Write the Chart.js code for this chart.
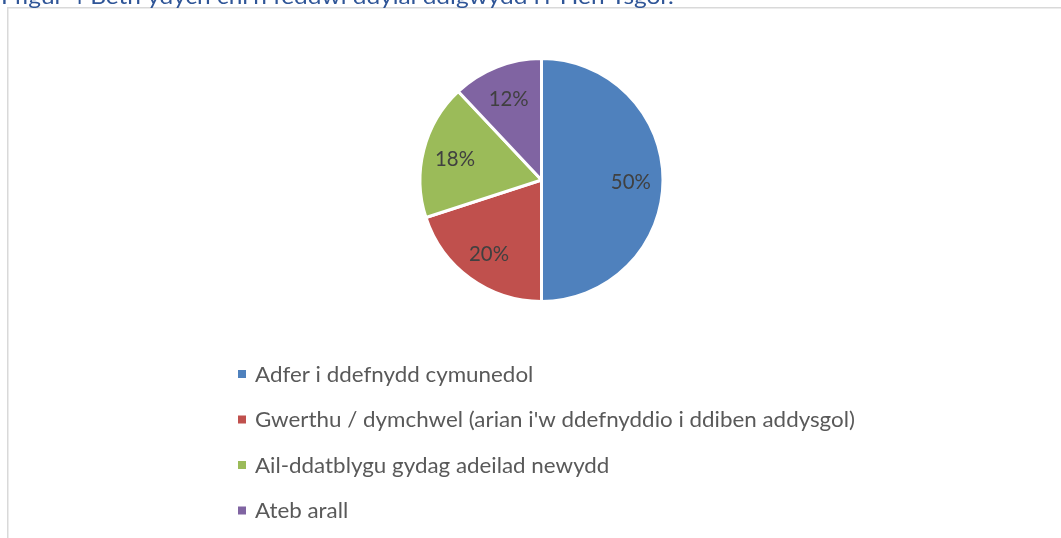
<!DOCTYPE html>
<html><head><meta charset="utf-8">
<script src="https://cdn.jsdelivr.net/npm/chart.js@4"></script>
<style>html,body{margin:0;padding:0;background:#fff;overflow:hidden}</style>
</head><body>
<canvas id="c" width="1061" height="538" style="width:1061px;height:538px;display:block"></canvas>
<script>
const titleText = "Ffigur 4 Beth ydych chi'n feddwl ddylai ddigwydd i'r Hen Ysgol?";
const categories = [
  "Adfer i ddefnydd cymunedol",
  "Gwerthu / dymchwel (arian i'w ddefnyddio i ddiben addysgol)",
  "Ail-ddatblygu gydag adeilad newydd",
  "Ateb arall"
];
const percentages = [50, 20, 18, 12];
const sliceColors = ['#4F81BD', '#C0504D', '#9BBB59', '#8064A2'];

const FONT = "Lato, 'Open Sans', 'Liberation Sans', sans-serif";

// draw text at font size `size`, horizontally scaled by sx
function drawScaled(ctx, text, x, y, size, sx, align) {
  ctx.font = size + 'px ' + FONT;
  const w = ctx.measureText(text).width * sx;
  let left = x;
  if (align === 'center') left = x - w / 2;
  ctx.save();
  ctx.translate(left, y);
  ctx.scale(sx, 1);
  ctx.textAlign = 'left';
  ctx.fillText(text, 0, 0);
  ctx.restore();
}
function scaleFor(ctx, text, size, targetW) {
  ctx.font = size + 'px ' + FONT;
  return targetW / ctx.measureText(text).width;
}

const decor = {
  id: 'decor',
  afterDraw(chart) {
    const ctx = chart.ctx;
    ctx.save();
    // frame
    ctx.strokeStyle = '#D9D9D9';
    ctx.lineWidth = 1.5;
    ctx.beginPath();
    ctx.moveTo(1062, 7.75);
    ctx.lineTo(7.75, 7.75);
    ctx.lineTo(7.75, 538);
    ctx.stroke();

    // title (partially cut off at top)
    ctx.fillStyle = '#2F5597';
    ctx.textBaseline = 'alphabetic';
    const tSize = 21;
    const tsx = scaleFor(ctx, titleText, tSize, 676);
    drawScaled(ctx, titleText, 1, 3.5, tSize, tsx, 'left');

    // data labels
    const meta = chart.getDatasetMeta(0);
    const lSize = 22;
    const lsx = scaleFor(ctx, '50%', lSize, 40);
    ctx.fillStyle = '#404040';
    ctx.textBaseline = 'middle';
    meta.data.forEach((arc, i) => {
      const p = arc.getProps(['x', 'y', 'startAngle', 'endAngle', 'outerRadius'], true);
      const mid = (p.startAngle + p.endAngle) / 2;
      const r = p.outerRadius * 0.735;
      drawScaled(ctx, percentages[i] + '%', p.x + Math.cos(mid) * r, p.y + Math.sin(mid) * r + 1.5, lSize, lsx, 'center');
    });

    // legend
    const gSize = 20.5;
    const gsx = scaleFor(ctx, categories[1], gSize, 600);
    ctx.textBaseline = 'middle';
    const rowTop = 374, rowStep = 45.5;
    categories.forEach((c, i) => {
      const yc = rowTop + i * rowStep;
      ctx.fillStyle = sliceColors[i];
      ctx.fillRect(238, yc - 4, 8, 8);
      ctx.fillStyle = '#595959';
      drawScaled(ctx, c, 255, yc + 1, gSize, gsx, 'left');
    });
    ctx.restore();
  }
};

new Chart(document.getElementById('c'), {
  type: 'pie',
  data: {
    labels: categories,
    datasets: [{
      data: percentages,
      backgroundColor: sliceColors,
      borderColor: '#FFFFFF',
      borderWidth: 3
    }]
  },
  options: {
    responsive: false,
    devicePixelRatio: 1,
    animation: false,
    radius: 121.5,
    layout: { padding: { left: 401, right: 379, top: 40, bottom: 218 } },
    plugins: { legend: { display: false }, tooltip: { enabled: false }, title: { display: false } }
  },
  plugins: [decor]
});
</script>
</body></html>
